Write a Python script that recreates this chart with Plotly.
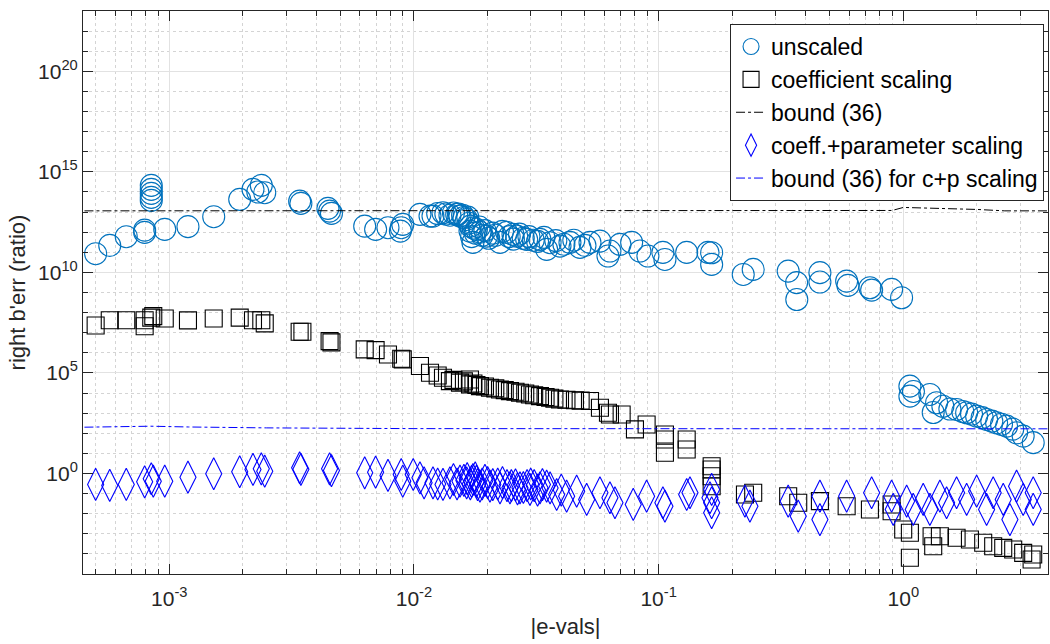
import plotly.graph_objects as go

# ---------------- data ----------------
unscaled_x = [5.0e-4, 5.71e-4, 6.67e-4, 7.93e-4, 7.93e-4, 8.44e-4, 8.44e-4, 8.44e-4, 8.44e-4, 8.44e-4,
              9.58e-4, 1.192e-3, 1.519e-3, 1.94e-3, 2.198e-3, 2.377e-3, 2.455e-3, 2.3e-3, 3.41e-3, 3.45e-3,
              4.52e-3, 4.45e-3, 4.6e-3, 6.29e-3, 6.97e-3, 7.83e-3, 8.87e-3, 9.0e-3, 8.8e-3,
              1.058e-2, 1.163e-2, 1.196e-2, 1.25e-2, 1.314e-2, 1.35e-2, 1.403e-2, 1.45e-2, 1.495e-2, 1.52e-2,
              1.542e-2, 1.58e-2, 1.6e-2, 1.642e-2, 1.66e-2, 1.68e-2, 1.694e-2, 1.70e-2, 1.72e-2, 1.742e-2,
              1.75e-2, 1.78e-2, 1.80e-2, 1.85e-2, 1.861e-2, 1.9e-2, 1.95e-2, 1.982e-2, 2.02e-2, 2.1e-2,
              2.15e-2, 2.247e-2, 2.3e-2, 2.393e-2, 2.45e-2, 2.539e-2, 2.55e-2, 2.629e-2, 2.7e-2, 2.797e-2,
              2.888e-2, 2.95e-2, 3.073e-2, 3.2e-2, 3.273e-2, 3.4e-2, 3.486e-2, 3.6e-2, 3.8e-2, 3.952e-2,
              4.1e-2, 4.341e-2, 4.5e-2, 4.769e-2, 5.0e-2, 5.241e-2, 5.756e-2, 6.207e-2, 6.324e-2, 6.95e-2,
              7.757e-2, 8.386e-2, 9.04e-2,
              0.1041, 0.1061, 0.1302, 0.1591, 0.1647, 0.1647, 0.2217, 0.2435, 0.3384, 0.3664, 0.367,
              0.4562, 0.4562, 0.5867, 0.594, 0.7304, 0.7423, 0.8957, 0.984,
              1.064, 1.064, 1.10, 1.284, 1.368, 1.325, 1.451, 1.55, 1.651, 1.75, 1.815, 1.9, 1.994, 2.1,
              2.19, 2.3, 2.406, 2.52, 2.644, 2.8, 2.904, 3.09, 3.396]
unscaled_y = [8.5e10, 2.2e11, 5.97e11, 1.27e12, 9.8e11, 2.13e14, 1.35e14, 8.5e13, 5.4e13, 3.8e13,
              1.38e12, 1.88e12, 5.9e12, 4.3e13, 1.35e14, 2.13e14, 9.2e13, 1.0e14, 3.5e13, 2.7e13,
              1.12e13, 1.53e13, 8.6e12, 2.0e12, 1.38e12, 1.67e12, 1.67e12, 2.44e12, 1.13e12,
              7.7e12, 6.3e12, 6.3e12, 8.5e12, 9.3e12, 8.0e12, 7.0e12, 9.0e12, 7.7e12, 8.0e12,
              6.3e12, 7.0e12, 5.4e12, 4.3e12, 5.6e12, 2.8e12, 1.13e12, 2.0e12, 6.0e11, 3.1e11,
              1.6e12, 9.0e11, 1.4e12, 1.8e12, 1.0e12, 7.0e11, 1.2e12, 6.4e11, 5.0e11, 9.0e11,
              7.0e11, 3.1e11, 1.1e12, 9.8e11, 6.0e11, 7.8e11, 4.5e11, 6.4e11, 8.0e11, 5.0e11,
              4.4e11, 6.0e11, 4.0e11, 3.5e11, 4.4e11, 5.5e11, 1.39e11, 3.0e11, 3.8e11, 2.03e11,
              2.5e11, 3.1e11, 4.0e11, 1.75e11, 2.2e11, 3.1e11, 3.6e11, 6.5e10, 1.15e11, 2.47e11,
              3.1e11, 1.15e11, 6.5e10,
              9.9e10, 4.4e10, 9.9e10, 9.9e10, 2.5e10, 9.5e10, 7.9e9, 1.41e10, 1.16e10, 3.1e9, 4.5e8,
              9.7e9, 3.3e9, 3.7e9, 2.25e9, 1.73e9, 1.32e9, 1.43e9, 5.5e8,
              2.2e4, 7.0e3, 1.2e4, 8.5e3, 3.3e3, 1.08e3, 2.2e3, 1.6e3, 1.53e3, 1.2e3, 1.05e3, 900, 710, 600,
              486, 400, 333, 280, 226, 160, 106, 72, 34]

coef_x = [5.0e-4, 5.71e-4, 6.67e-4, 7.93e-4, 7.93e-4, 8.44e-4, 8.6e-4, 9.58e-4, 1.192e-3, 1.519e-3,
          1.94e-3, 2.198e-3, 2.377e-3, 2.455e-3, 3.41e-3, 3.5e-3, 4.52e-3, 4.6e-3, 6.29e-3, 6.97e-3,
          7.83e-3, 8.87e-3, 9.0e-3, 1.058e-2, 1.163e-2, 1.25e-2, 1.314e-2, 1.403e-2, 1.45e-2, 1.542e-2,
          1.6e-2, 1.694e-2, 1.694e-2, 1.75e-2, 1.8e-2, 1.861e-2, 1.95e-2, 2.045e-2, 2.15e-2, 2.247e-2,
          2.35e-2, 2.468e-2, 2.6e-2, 2.712e-2, 2.85e-2, 2.979e-2, 3.1e-2, 3.273e-2, 3.45e-2, 3.6e-2,
          3.75e-2, 3.952e-2, 4.2e-2, 4.549e-2, 4.8e-2,
          5.241e-2, 5.756e-2, 6.207e-2, 6.324e-2, 7.06e-2, 8.002e-2, 8.93e-2, 0.1061, 0.1061, 0.1061,
          0.1302, 0.1302, 0.1647, 0.1647, 0.1647, 0.1647, 0.2253, 0.2435, 0.3384, 0.372, 0.4562,
          0.5867, 0.7304, 0.8957, 0.8957, 0.999, 1.064, 1.064, 1.305, 1.325, 1.411, 1.651, 1.872,
          2.121, 2.33, 2.561, 2.813, 3.09, 3.396, 3.345]
coef_y = [2.3e7, 4.2e7, 4.2e7, 4.2e7, 2.1e7, 5.6e7, 6.7e7, 5.1e7, 4.1e7, 5.1e7,
          5.6e7, 4.2e7, 4.2e7, 2.9e7, 1.12e7, 1.12e7, 3.8e6, 3.3e6, 1.48e6, 1.36e6,
          8.3e5, 5.1e5, 4.7e5, 2.2e5, 1.02e5, 7.5e4, 5.8e4, 3.9e4, 4.5e4, 3.3e4,
          3.8e4, 4.75e4, 2.7e4, 3.0e4, 2.5e4, 2.2e4, 2.1e4, 1.84e4, 1.7e4, 1.51e4,
          1.4e4, 1.24e4, 1.15e4, 1.04e4, 9.5e3, 8.5e3, 7.8e3, 7.0e3, 6.4e3, 5.8e3,
          5.3e3, 4.8e3, 4.6e3, 4.4e3, 4.2e3,
          4.0e3, 1.86e3, 1.05e3, 861, 861, 155, 274, 87, 49, 10.7,
          49, 15.6, 2.3, 1.58, 0.73, 0.233, 0.09, 0.11, 0.074, 0.035, 0.042,
          0.0236, 0.0162, 0.0287, 0.0133, 1.64e-3, 1.12e-3, 6.4e-5, 7.6e-4, 2.4e-4, 7.6e-4, 6.3e-4, 5.2e-4,
          3.6e-4, 2.4e-4, 2.0e-4, 1.66e-4, 1.13e-4, 9.3e-5, 5.3e-5]

cp_x = [5.0e-4, 5.71e-4, 6.67e-4, 7.93e-4, 8.44e-4, 8.6e-4, 9.58e-4, 1.192e-3, 1.519e-3, 1.94e-3,
        2.198e-3, 2.377e-3, 2.455e-3, 3.41e-3, 3.45e-3, 4.52e-3, 4.6e-3, 6.29e-3, 6.97e-3, 7.83e-3,
        8.87e-3, 9.0e-3, 9.93e-3, 1.058e-2, 1.10e-2, 1.196e-2, 1.25e-2, 1.314e-2, 1.403e-2, 1.45e-2,
        1.5e-2, 1.542e-2, 1.6e-2, 1.642e-2, 1.65e-2, 1.7e-2, 1.72e-2, 1.742e-2, 1.78e-2, 1.8e-2,
        1.82e-2, 1.861e-2, 1.9e-2, 1.95e-2, 2.0e-2, 2.045e-2, 2.1e-2, 2.2e-2, 2.247e-2, 2.3e-2,
        2.4e-2, 2.468e-2, 2.5e-2, 2.6e-2, 2.65e-2, 2.712e-2, 2.8e-2, 2.9e-2, 2.979e-2, 3.0e-2,
        3.1e-2, 3.2e-2, 3.273e-2, 3.35e-2, 3.486e-2, 3.6e-2, 3.83e-2, 4.0e-2,
        4.207e-2, 4.623e-2, 5.08e-2, 5.756e-2, 6.324e-2, 6.63e-2, 7.874e-2, 8.93e-2, 0.1041, 0.1061,
        0.1302, 0.1343, 0.1621, 0.1647, 0.1647, 0.1647, 0.2253, 0.2361, 0.3384, 0.372, 0.4562, 0.4562,
        0.5867, 0.7423, 0.8957, 0.9094, 1.032, 1.098, 1.206, 1.284, 1.411, 1.503, 1.651, 1.815,
        1.994, 2.19, 2.33, 2.561, 2.727, 2.904, 3.09, 3.396, 3.396]
cp_y = [0.284, 0.253, 0.284, 0.386, 0.545, 0.414, 0.414, 0.655, 0.97, 1.22,
        1.58, 1.71, 1.30, 1.92, 1.6, 1.71, 1.4, 1.08, 1.16, 0.795,
        0.89, 0.414, 0.89, 0.61, 0.344, 0.344, 0.3, 0.284, 0.344, 0.5,
        0.3, 0.414, 0.45, 0.344, 0.55, 0.3, 0.4, 0.50, 0.6, 0.4,
        0.28, 0.233, 0.3, 0.45, 0.35, 0.233, 0.28, 0.3, 0.194, 0.35,
        0.25, 0.194, 0.25, 0.27, 0.17, 0.194, 0.2, 0.25, 0.16, 0.3,
        0.25, 0.15, 0.194, 0.28, 0.233, 0.19, 0.09, 0.15,
        0.074, 0.132, 0.051, 0.11, 0.062, 0.035, 0.0287, 0.074, 0.035, 0.0236,
        0.09, 0.11, 0.062, 0.16, 0.035, 0.0111, 0.042, 0.0236, 0.042, 0.0075, 0.074, 0.0051,
        0.074, 0.11, 0.074, 0.0162, 0.042, 0.0162, 0.051, 0.0162, 0.074, 0.035, 0.11, 0.051,
        0.132, 0.0162, 0.11, 0.051, 0.0051, 0.233, 0.051, 0.0162, 0.11]

bound_x = [4.5e-4, 8.4e-4, 2.4e-3, 1e-2, 0.1, 0.5, 0.9, 1.0, 1.3, 2.0, 2.6, 3.9]
bound_y = [1.15e13, 1.15e13, 1.15e13, 1.15e13, 1.15e13, 1.15e13, 1.2e13, 1.7e13, 1.6e13, 1.35e13, 1.15e13, 1.15e13]

bound_cp_x = [4.5e-4, 7e-4, 8.4e-4, 1.2e-3, 2.5e-3, 1e-2, 0.1, 1.0, 3.9]
bound_cp_y = [200, 205, 224, 205, 185, 170, 166, 166, 166]

x_ticks = [1e-3, 1e-2, 1e-1, 1]
x_ticktext = ["10<sup>-3</sup>", "10<sup>-2</sup>", "10<sup>-1</sup>", "10<sup>0</sup>"]
y_ticks = [1, 1e5, 1e10, 1e15, 1e20]
y_ticktext = ["10<sup>0</sup>", "10<sup>5</sup>", "10<sup>10</sup>", "10<sup>15</sup>", "10<sup>20</sup>"]

# ---------------- figure ----------------
AX = "#262626"
FONT = "Liberation Sans, Arial, Helvetica, sans-serif"

fig = go.Figure()
fig.add_trace(go.Scatter(x=unscaled_x, y=unscaled_y, mode="markers", name="unscaled",
                         marker=dict(symbol="circle-open", size=22, color="#0072BD",
                                     line=dict(width=1.1, color="#0072BD"))))
fig.add_trace(go.Scatter(x=coef_x, y=coef_y, mode="markers", name="coefficient scaling",
                         marker=dict(symbol="square-open", size=17, color="black",
                                     line=dict(width=1.1, color="black"))))
fig.add_trace(go.Scatter(x=bound_x, y=bound_y, mode="lines", name="bound (36)",
                         line=dict(color="black", width=1, dash="dashdot")))
fig.add_trace(go.Scatter(x=cp_x, y=cp_y, mode="markers", name="coeff.+parameter scaling",
                         marker=dict(symbol="diamond-tall-open", size=23, color="#0000FF",
                                     line=dict(width=1.1, color="#0000FF"))))
fig.add_trace(go.Scatter(x=bound_cp_x, y=bound_cp_y, mode="lines", name="bound (36) for c+p scaling",
                         line=dict(color="#0000FF", width=1, dash="dashdot")))

x_minor = [k * 10.0 ** d for d in range(-4, 1) for k in range(2, 10)]
y_minor = [10.0 ** k for k in range(-5, 24) if k % 5 != 0]

fig.update_xaxes(type="log", range=[-3.3527, 0.5914],
                 tickmode="array", tickvals=x_ticks, ticktext=x_ticktext,
                 ticks="inside", ticklen=10, tickcolor=AX, tickwidth=1,
                 showline=True, linecolor=AX, linewidth=1, mirror="ticks",
                 showgrid=True, gridcolor="#e2e2e2", gridwidth=1, zeroline=False,
                 tickfont=dict(size=21, color=AX, family=FONT), ticklabelstandoff=6,
                 minor=dict(tickmode="array", tickvals=x_minor, ticks="inside", ticklen=5,
                            tickcolor=AX, showgrid=True, gridcolor="#d4d4d4", griddash="dot"),
                 title=dict(text="|e-vals|", font=dict(size=22, color=AX, family=FONT), standoff=9))
fig.update_yaxes(type="log", range=[-5, 23],
                 tickmode="array", tickvals=y_ticks, ticktext=y_ticktext,
                 ticks="inside", ticklen=10, tickcolor=AX, tickwidth=1,
                 showline=True, linecolor=AX, linewidth=1, mirror="ticks",
                 showgrid=True, gridcolor="#e2e2e2", gridwidth=1, zeroline=False,
                 tickfont=dict(size=21, color=AX, family=FONT),
                 minor=dict(tickmode="array", tickvals=y_minor, ticks="inside", ticklen=5,
                            tickcolor=AX, showgrid=True, gridcolor="#d4d4d4", griddash="dot"),
                 title=dict(text="right b'err (ratio)", font=dict(size=22, color=AX, family=FONT), standoff=6))

fig.update_layout(width=1050, height=644,
                  margin=dict(l=83, r=2, t=11, b=70, autoexpand=False),
                  plot_bgcolor="white", paper_bgcolor="white",
                  font=dict(family=FONT, color=AX, size=20),
                  legend=dict(x=0.9959, y=0.9769, xanchor="right", yanchor="top",
                              bgcolor="white", bordercolor=AX, borderwidth=1,
                              font=dict(size=23, color="black", family=FONT),
                              tracegroupgap=0, itemwidth=30))

fig.write_html("out.html")
